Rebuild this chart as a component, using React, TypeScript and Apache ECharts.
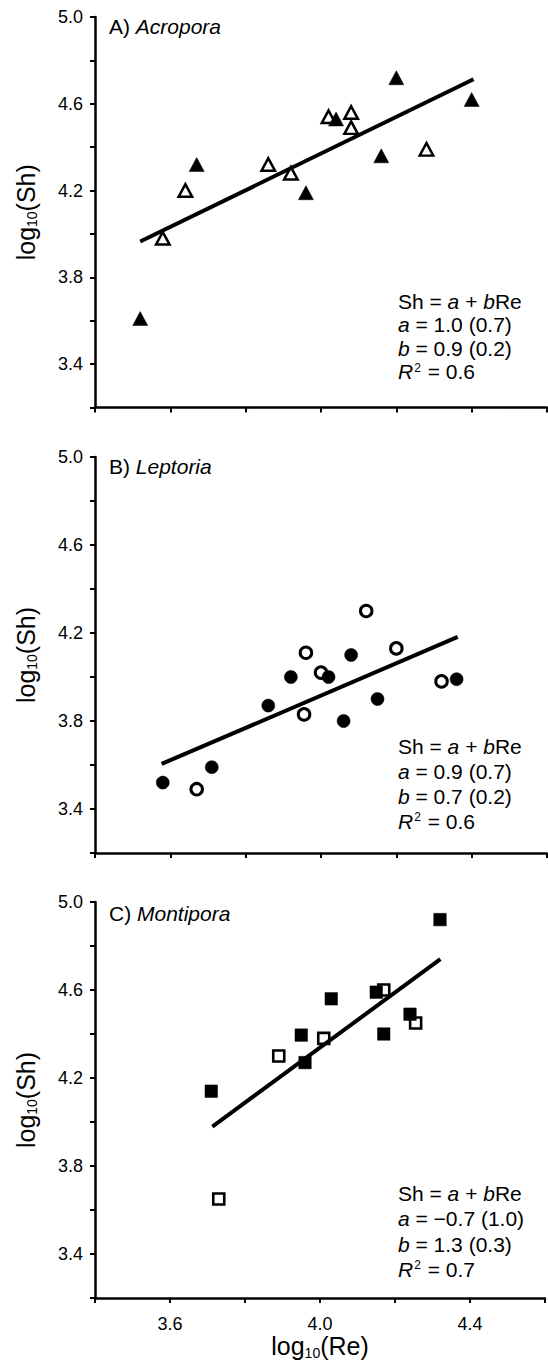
import React, { useEffect, useRef } from "react";
import * as echarts from "echarts";

// ---------- data ----------
// Panel A: Acropora (triangles)
const acroporaFilled: [number, number][] = [
  [3.52, 3.61], [3.67, 4.32], [3.96, 4.19], [4.04, 4.53], [4.16, 4.36], [4.2, 4.72], [4.4, 4.62],
];
const acroporaOpen: [number, number][] = [
  [3.58, 3.98], [3.64, 4.2], [3.86, 4.32], [3.92, 4.28], [4.02, 4.54], [4.08, 4.56], [4.08, 4.49], [4.28, 4.39],
];
const acroporaFit: [number, number][] = [[3.52, 3.965], [4.405, 4.713]];

// Panel B: Leptoria (circles)
const leptoriaFilled: [number, number][] = [
  [3.58, 3.52], [3.71, 3.59], [3.86, 3.87], [3.92, 4.0], [4.02, 4.0], [4.08, 4.1], [4.06, 3.8], [4.15, 3.9], [4.36, 3.99],
];
const leptoriaOpen: [number, number][] = [
  [3.67, 3.49], [3.96, 4.11], [3.955, 3.83], [4.0, 4.02], [4.12, 4.3], [4.2, 4.13], [4.32, 3.98],
];
const leptoriaFit: [number, number][] = [[3.577, 3.605], [4.363, 4.182]];

// Panel C: Montipora (squares)
const montiporaFilled: [number, number][] = [
  [3.71, 4.14], [3.95, 4.395], [3.96, 4.27], [4.03, 4.56], [4.15, 4.59], [4.17, 4.4], [4.24, 4.49], [4.32, 4.92],
];
const montiporaOpen: [number, number][] = [
  [3.73, 3.65], [3.89, 4.3], [4.01, 4.38], [4.17, 4.6], [4.255, 4.45],
];
const montiporaFit: [number, number][] = [[3.713, 3.979], [4.321, 4.74]];

const panelLetters = ["A) ", "B) ", "C) "];
const genera = ["Acropora", "Leptoria", "Montipora"];
const coefA = ["1.0 (0.7)", "0.9 (0.7)", "\u22120.7 (1.0)"];
const coefB = ["0.9 (0.2)", "0.7 (0.2)", "1.3 (0.3)"];
const rSquared = ["0.6", "0.6", "0.7"];

const xTickLabels = [3.6, 4.0, 4.4];
const yTickLabels = [3.4, 3.8, 4.2, 4.6, 5.0];

// ---------- layout ----------
const FONT = "'Liberation Sans', Arial, Helvetica, sans-serif";
const GRID_LEFT = 95;
const GRID_WIDTH = 452;
const panelsLayout = [
  { top: 17, height: 390.5, titleTop: 14, eqTop: 290, eqLH: 23.3 },
  { top: 457, height: 396, titleTop: 454.5, eqTop: 734, eqLH: 25 },
  { top: 902, height: 396, titleTop: 901, eqTop: 1180.5, eqLH: 25.5 },
];

const panelData = [
  { filled: acroporaFilled, open: acroporaOpen, fit: acroporaFit, symbol: "triangle", fsize: [15, 14], osize: [13.5, 12.5], bw: 2.5 },
  { filled: leptoriaFilled, open: leptoriaOpen, fit: leptoriaFit, symbol: "circle", fsize: 13, osize: 11.5, bw: 3 },
  { filled: montiporaFilled, open: montiporaOpen, fit: montiporaFit, symbol: "rect", fsize: 12.5, osize: 11, bw: 2.6 },
];

const inList = (v: number, list: number[]) => list.some((t) => Math.abs(t - v) < 1e-6);

export default function App() {
  const ref = useRef<HTMLDivElement>(null);

  useEffect(() => {
    document.body.style.margin = "0";
    if (!ref.current) return;
    const chart = echarts.init(ref.current, undefined, { renderer: "svg" });

    const nameRich = {
      a: { fontSize: 25, fontFamily: FONT, color: "#000", lineHeight: 27 },
      s: { fontSize: 14, fontFamily: FONT, color: "#000", lineHeight: 14, verticalAlign: "bottom" },
    };

    const grids: any[] = [];
    const xAxes: any[] = [];
    const yAxes: any[] = [];
    const series: any[] = [];
    const graphics: any[] = [];

    panelsLayout.forEach((p, i) => {
      grids.push({ left: GRID_LEFT, top: p.top, width: GRID_WIDTH, height: p.height, containLabel: false });
      const axisLine = { show: true, onZero: false, lineStyle: { color: "#000", width: 2.5 } };
      const axisTick = { show: true, inside: false, length: 5, lineStyle: { color: "#000", width: 2 } };
      xAxes.push({
        type: "value",
        gridIndex: i,
        min: 3.4,
        max: 4.6,
        interval: 0.2,
        axisLine,
        axisTick,
        splitLine: { show: false },
        axisLabel: {
          show: i === 2,
          margin: 17,
          fontSize: 18,
          fontFamily: FONT,
          color: "#000",
          showMinLabel: true,
          showMaxLabel: true,
          formatter: (v: number) => (inList(v, xTickLabels) ? v.toFixed(1) : ""),
        },
        name: i === 2 ? "{a|log}{s|10}{a|(Re)}" : "",
        nameLocation: "middle",
        nameGap: 33,
        nameTextStyle: { rich: nameRich },
      });
      yAxes.push({
        type: "value",
        gridIndex: i,
        min: 3.2,
        max: 5.0,
        interval: 0.2,
        axisLine,
        axisTick,
        splitLine: { show: false },
        axisLabel: {
          margin: 12,
          fontSize: 18,
          fontFamily: FONT,
          color: "#000",
          showMinLabel: true,
          showMaxLabel: true,
          formatter: (v: number) => (inList(v, yTickLabels) ? v.toFixed(1) : ""),
        },
        name: "{a|log}{s|10}{a|(Sh)}",
        nameLocation: "middle",
        nameGap: 56,
        nameRotate: 90,
        nameTextStyle: { rich: nameRich },
      });

      const d = panelData[i];
      series.push({
        type: "scatter",
        xAxisIndex: i,
        yAxisIndex: i,
        data: d.open,
        symbol: d.symbol,
        symbolSize: d.osize,
        itemStyle: { color: "#fff", borderColor: "#000", borderWidth: d.bw, opacity: 1 },
        z: 3,
      });
      series.push({
        type: "scatter",
        xAxisIndex: i,
        yAxisIndex: i,
        data: d.filled,
        symbol: d.symbol,
        symbolSize: d.fsize,
        itemStyle: { color: "#000", borderColor: "#000", borderWidth: 0.5, opacity: 1 },
        z: 3,
      });
      series.push({
        type: "line",
        xAxisIndex: i,
        yAxisIndex: i,
        data: d.fit,
        symbol: "none",
        lineStyle: { color: "#000", width: 4 },
        z: 4,
        silent: true,
      });

      // panel title
      graphics.push({
        type: "text",
        x: 109,
        y: p.titleTop,
        style: {
          text: `{n|${panelLetters[i]}}{i|${genera[i]}}`,
          verticalAlign: "top",
          rich: {
            n: { fontSize: 21, fontFamily: FONT, fill: "#000", lineHeight: 24 },
            i: { fontSize: 21, fontFamily: FONT, fill: "#000", lineHeight: 24, fontStyle: "italic" },
          },
        },
        z: 10,
      });

      // equation block
      const LH = p.eqLH;
      graphics.push({
        type: "text",
        x: 398,
        y: p.eqTop,
        style: {
          text:
            "{n|Sh = }{i|a}{n| + }{i|b}{n|Re}\n" +
            `{i|a}{n| = ${coefA[i]}}\n` +
            `{i|b}{n| = ${coefB[i]}}\n` +
            `{i|R}{sup|2}{n| = ${rSquared[i]}}`,
          verticalAlign: "top",
          rich: {
            n: { fontSize: 21, fontFamily: FONT, fill: "#000", lineHeight: LH },
            i: { fontSize: 21, fontFamily: FONT, fill: "#000", lineHeight: LH, fontStyle: "italic" },
            sup: { fontSize: 12, fontFamily: FONT, fill: "#000", lineHeight: 12, verticalAlign: "top", padding: [2, 1, 0, 1] },
          },
        },
        z: 10,
      });
    });

    chart.setOption({
      animation: false,
      backgroundColor: "#fff",
      grid: grids,
      xAxis: xAxes,
      yAxis: yAxes,
      series,
      graphic: graphics,
    });

    return () => chart.dispose();
  }, []);

  return <div ref={ref} style={{ width: 548, height: 1363 }} />;
}
